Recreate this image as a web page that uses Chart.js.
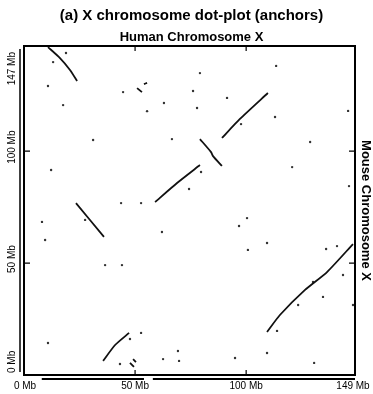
<!DOCTYPE html>
<html>
<head>
<meta charset="utf-8">
<script src="https://cdn.jsdelivr.net/npm/chart.js@4/dist/chart.umd.min.js"></script>
<style>
  html, body { margin: 0; padding: 0; background: #fff; }
  #wrap { width: 373px; height: 394px; }
</style>
</head>
<body>
<div id="wrap"><canvas id="dotPlot"></canvas></div>
<script>
// anchors: human position (Mb) vs mouse position (Mb)
const segHuman = [
  [10.8, 16.2, 20.7, 23.9],
  [50.9, 53.1],
  [54.0, 55.4],
  [59.0, 68.9, 79.2],
  [89.1, 97.2, 109.8],
  [79.2, 84.2, 85.1, 89.1],
  [23.4, 36.0],
  [35.6, 41.0, 47.3],
  [49.1, 50.4],
  [47.7, 49.5],
  [109.4, 115.2, 126.5, 136.4, 148.1]
];
const segMouse = [
  [146.5, 141.6, 136.3, 131.4],
  [128.2, 126.4],
  [130.0, 130.5],
  [77.3, 85.8, 93.8],
  [105.9, 114.4, 126.0],
  [105.4, 99.6, 97.8, 93.4],
  [76.8, 61.7],
  [6.3, 13.4, 18.8],
  [7.1, 5.8],
  [5.4, 3.6],
  [19.2, 26.8, 38.0, 46.0, 58.5]
];

// isolated anchors
const dotHuman = [13.1, 18.9, 10.8, 17.6, 55.4, 31.1, 44.6, 63.0, 66.6, 12.2, 74.3, 76.1, 43.7, 52.7,
  113.5, 79.2, 91.4, 77.9, 113.0, 97.7, 145.9, 128.8, 120.7, 79.7, 146.3, 100.4,
  8.1, 9.5, 27.5, 62.1, 36.5, 44.1, 10.8, 52.7, 47.7, 43.2, 62.6, 69.3, 69.8,
  96.8, 100.8, 109.4, 136.0, 140.9, 143.6, 130.1, 134.6, 123.4, 148.1, 113.9, 95.0, 109.4, 130.6];
const dotMouse = [139.8, 143.9, 129.1, 120.6, 117.9, 105.0, 126.4, 121.5, 105.4, 91.6, 83.1, 126.9, 76.8, 76.8,
  138.1, 134.9, 123.8, 119.3, 115.3, 112.1, 118.0, 104.1, 92.9, 90.7, 84.4, 70.1,
  68.4, 60.3, 69.3, 63.9, 49.1, 49.1, 14.3, 18.8, 16.1, 4.9, 7.1, 10.7, 6.3,
  66.6, 55.9, 59.0, 56.3, 57.6, 44.7, 41.6, 34.9, 31.3, 31.3, 19.7, 7.6, 9.8, 5.4];

const xTicks = [0, 50, 100, 149];
const xTickLabels = ['0 Mb', '50 Mb', '100 Mb', '149 Mb'];
const yTicks = [0, 50, 100, 147];
const yTickLabels = ['0 Mb', '50 Mb', '100 Mb', '147 Mb'];

const mainTitle = '(a) X chromosome dot-plot (anchors)';
const xTitle = 'Human Chromosome X';
const yTitle = 'Mouse Chromosome X';

const datasets = segHuman.map((xs, i) => ({
  type: 'line',
  data: xs.map((x, j) => ({ x: x, y: segMouse[i][j] })),
  borderColor: '#111',
  borderWidth: 1.8,
  pointRadius: 0,
  tension: 0.2
}));
datasets.push({
  type: 'scatter',
  data: dotHuman.map((x, i) => ({ x: x, y: dotMouse[i] })),
  backgroundColor: '#333',
  borderWidth: 0,
  pointRadius: 1.2
});

// frame, inner ticks and all the text
const framePlugin = {
  id: 'frame',
  afterDraw(chart) {
    const ctx = chart.ctx;
    const a = chart.chartArea;
    const xs = chart.scales.x, ys = chart.scales.y;
    ctx.save();
    ctx.strokeStyle = '#000';
    ctx.lineWidth = 2;
    ctx.strokeRect(a.left, a.top, a.right - a.left, a.bottom - a.top);
    // double lines left and below
    ctx.lineWidth = 1.5;
    ctx.beginPath();
    ctx.moveTo(a.left - 4, a.top + 3); ctx.lineTo(a.left - 4, a.bottom - 3);
    ctx.stroke();
    ctx.lineWidth = 2;
    ctx.beginPath();
    ctx.moveTo(xs.getPixelForValue(8), a.bottom + 4); ctx.lineTo(xs.getPixelForValue(54), a.bottom + 4);
    ctx.moveTo(xs.getPixelForValue(58), a.bottom + 4); ctx.lineTo(a.right, a.bottom + 4);
    ctx.stroke();

    // inner ticks
    ctx.lineWidth = 1.2;
    ctx.beginPath();
    xTicks.slice(1, -1).forEach(v => {
      const p = xs.getPixelForValue(v);
      ctx.moveTo(p, a.top); ctx.lineTo(p, a.top + 5);
      ctx.moveTo(p, a.bottom); ctx.lineTo(p, a.bottom - 5);
    });
    yTicks.slice(1, -1).forEach(v => {
      const p = ys.getPixelForValue(v);
      ctx.moveTo(a.left, p); ctx.lineTo(a.left + 6, p);
      ctx.moveTo(a.right, p); ctx.lineTo(a.right - 6, p);
    });
    ctx.stroke();

    ctx.fillStyle = '#000';
    // titles
    ctx.textAlign = 'center';
    ctx.textBaseline = 'middle';
    ctx.font = 'bold 15px "Liberation Sans", Arial, sans-serif';
    ctx.fillText(mainTitle, (a.left + a.right) / 2 + 2, 16);
    ctx.font = 'bold 13px "Liberation Sans", Arial, sans-serif';
    ctx.fillText(xTitle, (a.left + a.right) / 2 + 2, 37);
    ctx.save();
    ctx.translate(a.right + 11, (a.top + a.bottom) / 2);
    ctx.rotate(Math.PI / 2);
    ctx.fillText(yTitle, 0, 0);
    ctx.restore();

    // tick labels
    ctx.font = '10px "Liberation Sans", Arial, sans-serif';
    xTicks.forEach((v, i) => {
      ctx.textAlign = 'center';
      ctx.fillText(xTickLabels[i], xs.getPixelForValue(v) + (i === 0 ? 1 : i === xTicks.length - 1 ? -2 : 0), a.bottom + 11);
    });
    yTicks.forEach((v, i) => {
      const p = ys.getPixelForValue(v);
      ctx.save();
      ctx.translate(12, p);
      ctx.rotate(-Math.PI / 2);
      if (i === 0) { ctx.textAlign = 'left'; ctx.fillText(yTickLabels[i], 2, 0); }
      else if (i === yTicks.length - 1) { ctx.textAlign = 'right'; ctx.fillText(yTickLabels[i], -6, 0); }
      else { ctx.textAlign = 'center'; ctx.fillText(yTickLabels[i], 4, 0); }
      ctx.restore();
    });
    ctx.restore();
  }
};

new Chart(document.getElementById('dotPlot'), {
  type: 'scatter',
  data: { datasets: datasets },
  options: {
    responsive: true,
    maintainAspectRatio: false,
    animation: false,
    layout: { padding: { left: 24, right: 18, top: 46, bottom: 19 } },
    plugins: { legend: { display: false }, tooltip: { enabled: false } },
    scales: {
      x: { type: 'linear', min: 0, max: 149, display: false },
      y: { type: 'linear', min: 0, max: 147, display: false }
    }
  },
  plugins: [framePlugin]
});
</script>
</body>
</html>
